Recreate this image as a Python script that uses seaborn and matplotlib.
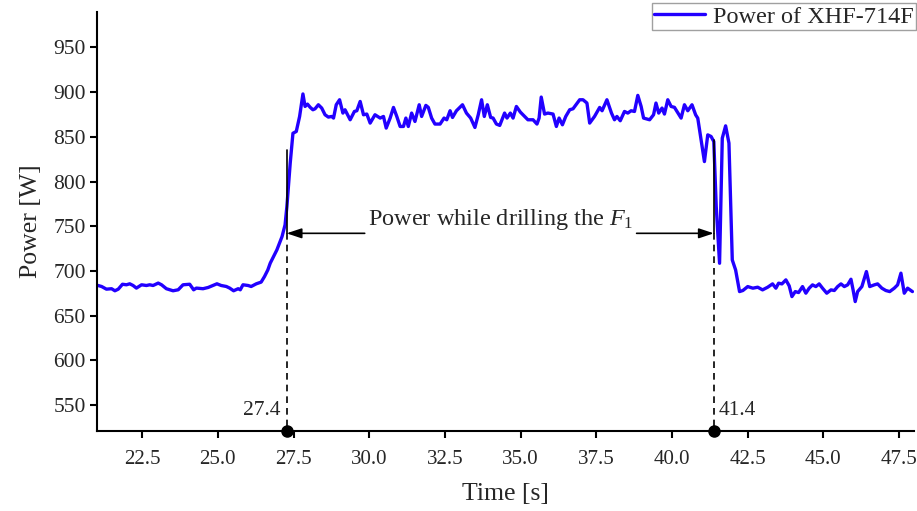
import numpy as np
import pandas as pd
import matplotlib
matplotlib.use("Agg")
import matplotlib.pyplot as plt
import seaborn as sns

# values (time in s, power in W)
time_s = [21.00, 21.16, 21.32, 21.49, 21.60, 21.71, 21.85, 21.98, 22.09, 22.20,
          22.31, 22.48, 22.64, 22.75, 22.86, 23.03, 23.14, 23.30, 23.52, 23.69,
          23.85, 24.07, 24.20, 24.29, 24.51, 24.68, 24.84, 24.97, 25.11, 25.28,
          25.39, 25.52, 25.67, 25.74, 25.83, 26.00, 26.10, 26.27, 26.43, 26.54,
          26.65, 26.73, 26.95, 27.12, 27.22, 27.28, 27.33, 27.39, 27.48, 27.59,
          27.70, 27.81, 27.88, 27.96, 28.05, 28.14, 28.21, 28.32, 28.43, 28.54,
          28.65, 28.76, 28.82, 28.91, 29.02, 29.13, 29.20, 29.37, 29.51, 29.59,
          29.70, 29.81, 29.92, 30.03, 30.19, 30.36, 30.47, 30.56, 30.69, 30.80,
          30.91, 31.02, 31.13, 31.21, 31.29, 31.40, 31.51, 31.65, 31.73, 31.87,
          31.95, 32.06, 32.17, 32.34, 32.47, 32.56, 32.67, 32.75, 32.88, 33.08,
          33.21, 33.35, 33.49, 33.60, 33.71, 33.80, 33.90, 34.01, 34.09, 34.20,
          34.31, 34.47, 34.55, 34.66, 34.75, 34.86, 34.99, 35.13, 35.24, 35.41,
          35.54, 35.61, 35.68, 35.79, 35.90, 36.07, 36.18, 36.27, 36.38, 36.49,
          36.62, 36.73, 36.95, 37.06, 37.19, 37.28, 37.44, 37.61, 37.69, 37.85,
          38.00, 38.10, 38.18, 38.29, 38.43, 38.54, 38.65, 38.76, 38.87, 38.98,
          39.06, 39.26, 39.39, 39.47, 39.56, 39.67, 39.75, 39.86, 39.97, 40.08,
          40.30, 40.41, 40.52, 40.66, 40.78, 40.85, 40.96, 41.07, 41.18, 41.29,
          41.38, 41.46, 41.57, 41.66, 41.77, 41.88, 41.99, 42.10, 42.23, 42.34,
          42.50, 42.67, 42.83, 42.99, 43.16, 43.32, 43.43, 43.52, 43.63, 43.76,
          43.87, 43.96, 44.07, 44.18, 44.31, 44.42, 44.53, 44.64, 44.75, 44.86,
          44.97, 45.11, 45.25, 45.36, 45.47, 45.58, 45.69, 45.80, 45.91, 45.98,
          46.05, 46.13, 46.27, 46.42, 46.53, 46.68, 46.79, 46.93, 47.06, 47.19,
          47.34, 47.45, 47.56, 47.67, 47.78, 47.94]
power_w = [684, 682.5, 679.5, 680, 677.7, 679.5, 685, 684.4, 685.5, 683.6,
           680.7, 684.4, 683.6, 684.4, 683.6, 686.3, 684.4, 680, 677.7, 678.8,
           684.4, 685, 678.8, 680.7, 680, 681.4, 683.6, 685.5, 683.6, 682.5,
           680.7, 677.7, 680, 678.8, 684.4, 683.6, 682.5, 685.5, 687.4, 693.6,
           701, 708.6, 723.5, 738.4, 751.5, 772, 794.4, 820.6, 854, 856,
           872.8, 898, 884, 886.6, 883, 880.3, 881.4, 885.9, 882.2, 874.7,
           872.1, 872.8, 871, 885.9, 891.5, 876.6, 880.3, 869.1, 878.4, 879.2,
           889.6, 874.7, 875.5, 865.4, 874.7, 871, 872.8, 859.8, 871, 882.9,
           872.8, 861.6, 861.6, 871, 861.6, 876.6, 867.2, 885.9, 872.8, 885.2,
           883, 871, 864.3, 864.3, 871, 869.1, 879.2, 871.7, 879.2, 885.9,
           876.6, 871, 860.5, 874.7, 891.5, 872.8, 885.9, 871.7, 871, 864.3,
           862.8, 876.6, 871, 876.6, 871, 884, 877.7, 872.8, 869.1, 869.1,
           864.3, 871, 894.5, 875.5, 876.6, 875.5, 861.6, 871, 863.5, 872.8,
           880.3, 881.4, 891.5, 891.5, 887.8, 865.4, 872.8, 882.9, 879.2, 891.5,
           876.6, 869.1, 872.8, 868, 878.4, 876.6, 879.2, 878.4, 896.4, 884,
           871, 869.1, 874.7, 887.8, 876.6, 882.2, 875.5, 891.5, 884, 883,
           871, 885.9, 879.2, 885.9, 874.6, 870.9, 846.6, 822.3, 852.2, 850.4,
           844.7, 771.9, 708.5, 848.5, 862.3, 842.9, 712.2, 701, 676.8, 678,
           682.4, 680.6, 681.7, 678.7, 681.7, 685.4, 680.6, 686.2, 685.4, 689.9,
           683.2, 671.2, 676.8, 675.7, 682.4, 675, 680.6, 684.3, 682.4, 685.4,
           680.6, 675, 678.7, 678, 682.4, 685.4, 682.4, 684.3, 690.6, 678.7,
           665.6, 676.8, 682.4, 699.2, 682.4, 684.3, 685.4, 680.6, 678, 676.8,
           680.6, 684.3, 697.4, 675, 680.6, 676.8]

start_x = 27.27
end_x = 41.38
start_label = "27.4"
end_label = "41.4"

df = pd.DataFrame({"Time": time_s, "Power": power_w})

sns.set_style("ticks")
plt.rcParams['font.family'] = ['Liberation Serif', 'DejaVu Serif']
plt.rcParams['mathtext.fontset'] = 'custom'
plt.rcParams['mathtext.rm'] = 'Liberation Serif'
plt.rcParams['mathtext.it'] = 'Liberation Serif:italic'

fig, ax = plt.subplots(figsize=(9.17, 5.11), dpi=100)
fig.subplots_adjust(left=0.1055, right=0.997, bottom=0.157, top=0.977)

sns.lineplot(data=df, x="Time", y="Power", color="#2200ff", linewidth=2.4,
             label="Power of XHF-714F", ax=ax)

ax.set_xlim(21.0, 48.0)
ax.set_ylim(521, 990)
ax.set_xticks(np.arange(22.5, 48, 2.5))
ax.set_xticklabels([f"{v:.1f}" for v in np.arange(22.5, 48, 2.5)])
ax.set_yticks(np.arange(550, 951, 50))
ax.tick_params(axis="both", labelsize=15.5, length=5, width=1.5, color="black")
ax.tick_params(axis="x", pad=9, labelsize=15)
ax.tick_params(axis="y", pad=3)
ax.set_xlabel("Time [s]", fontsize=18.5, labelpad=10)
ax.set_ylabel("Power [W]", fontsize=18.5, labelpad=8)

sns.despine(ax=ax)
for s in ["left", "bottom"]:
    ax.spines[s].set_linewidth(1.5)
    ax.spines[s].set_color("black")

# markers for the drilling window
arrow_y = 742
ax.plot([start_x, start_x], [835, arrow_y], color="black", lw=1.2)
ax.plot([start_x, start_x], [arrow_y, 521], color="black", lw=1.2, ls=(0, (4, 3)))
ax.plot([end_x, end_x], [847, arrow_y], color="black", lw=1.2)
ax.plot([end_x, end_x], [arrow_y, 521], color="black", lw=1.2, ls=(0, (4, 3)))
ax.plot([start_x, end_x + 0.02], [521, 521], "o", color="black", ms=8, clip_on=False, zorder=5)
ax.text(start_x - 0.2, 533, start_label, ha="right", va="bottom", fontsize=15.5)
ax.text(end_x + 0.15, 533, end_label, ha="left", va="bottom", fontsize=15.5)

ax.text(34.35, 758, "Power while drilling the $F_1$", ha="center", va="center",
        fontsize=17.5)
ax.annotate("", xy=(start_x, arrow_y), xytext=(29.85, arrow_y),
            arrowprops=dict(arrowstyle="-|>,head_length=0.9,head_width=0.3",
                            color="black", lw=1.2, shrinkA=0, shrinkB=0))
ax.annotate("", xy=(end_x, arrow_y), xytext=(38.83, arrow_y),
            arrowprops=dict(arrowstyle="-|>,head_length=0.9,head_width=0.3",
                            color="black", lw=1.2, shrinkA=0, shrinkB=0))

leg = ax.legend(loc="upper right", bbox_to_anchor=(1.002, 1.02), fontsize=17.5,
                frameon=True, fancybox=False, edgecolor="#888888",
                borderpad=0.1, handlelength=2.1, handletextpad=0.3, borderaxespad=0)
leg.get_frame().set_linewidth(1.0)

plt.savefig("out.png", dpi=100)
